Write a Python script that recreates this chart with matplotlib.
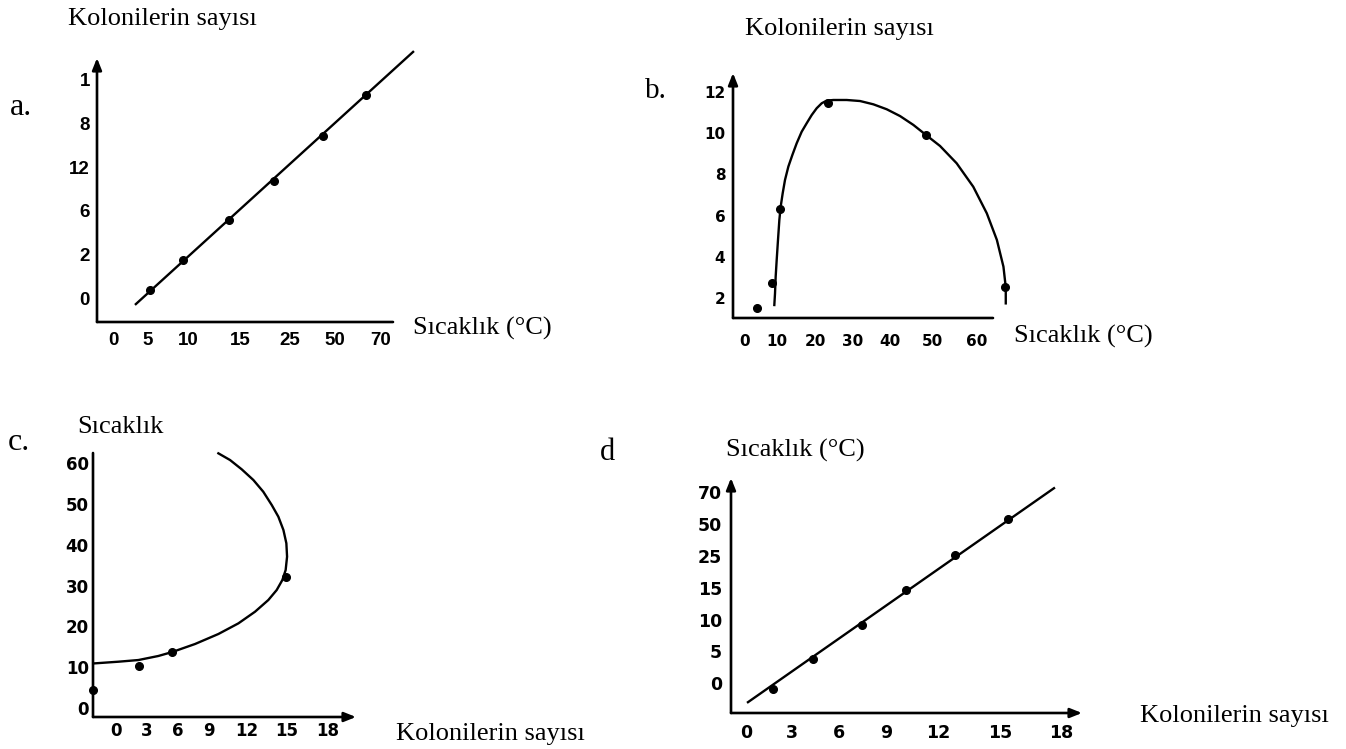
import matplotlib.pyplot as plt

W, H = 1346, 749

# --- a: colonies vs temperature (axes in tick-step units, labels as printed)
a_xlabels = ['0', '5', '10', '15', '25', '50', '70']
a_ylabels = ['0', '2', '6', '12', '8', '1']
a_temp = [0.83, 1.57, 2.60, 3.60, 4.70, 5.66]
a_count = [0.18, 0.87, 1.79, 2.68, 3.72, 4.66]
a_line_temp = [0.51, 6.72]
a_line_count = [-0.14, 5.64]

# --- b: colonies vs temperature
b_xlabels = ['0', '10', '20', '30', '40', '50', '60']
b_ylabels = ['2', '4', '6', '8', '10', '12']
b_temp = [3.1, 7.0, 9.1, 21.5, 46.8, 67.2]
b_count = [1.51, 2.73, 6.32, 11.47, 9.91, 2.53]
b_curve_temp = [7.58, 7.76, 7.93, 8.19, 8.53, 8.88, 9.22, 9.74, 10.34, 11.21,
                12.24, 13.36, 14.65, 15.94, 17.24, 18.53, 19.82, 21.12, 22.85,
                26.29, 29.74, 33.18, 36.63, 40.08, 43.52, 46.8, 50.4, 54.7,
                59.0, 62.5, 65.1, 66.8, 67.4, 67.4]
b_curve_count = [1.66, 2.23, 3.04, 3.84, 4.82, 5.79, 6.43, 7.08, 7.73, 8.38,
                 8.94, 9.51, 10.07, 10.48, 10.88, 11.21, 11.45, 11.58, 11.61,
                 11.61, 11.56, 11.40, 11.16, 10.83, 10.40, 9.91, 9.38, 8.54,
                 7.40, 6.11, 4.82, 3.52, 2.52, 1.74]

# --- c: temperature vs colonies
c_xlabels = ['0', '3', '6', '9', '12', '15', '18']
c_ylabels = ['0', '10', '20', '30', '40', '50', '60']
c_count = [-1.95, 1.95, 4.75, 14.40]
c_temp = [4.4, 10.3, 13.7, 32.2]
c_curve_count = [-1.78, 0.20, 1.90, 3.59, 4.78, 6.71, 8.69, 10.39, 11.80, 12.93,
                 13.64, 14.12, 14.40, 14.52, 14.46, 14.21, 13.78, 13.22, 12.50,
                 11.66, 10.67, 9.68, 8.69]
c_curve_temp = [10.95, 11.35, 11.76, 12.75, 13.73, 15.69, 18.14, 20.75, 23.6,
                26.47, 28.92, 31.37, 33.82, 37.09, 40.37, 43.63, 46.89, 49.75,
                53.01, 55.88, 58.5, 60.78, 62.42]

# --- d: temperature vs colonies (y in tick-step units)
d_xlabels = ['0', '3', '6', '9', '12', '15', '18']
d_ylabels = ['0', '5', '10', '15', '25', '50', '70']
d_count = [1.54, 3.83, 6.63, 9.14, 11.94, 14.97]
d_temp = [-0.19, 0.75, 1.82, 2.92, 4.03, 5.16]
d_line_count = [0.11, 17.6]
d_line_temp = [-0.60, 6.13]

serif = 'Liberation Serif'

fig = plt.figure(figsize=(W / 100, H / 100), dpi=100)


def make_axes(box, xlim, ylim):
    l, t, r, b = box
    ax = fig.add_axes([l / W, 1 - b / H, (r - l) / W, (b - t) / H])
    ax.set_xlim(xlim)
    ax.set_ylim(ylim)
    for s in ax.spines.values():
        s.set_visible(False)
    return ax


def draw_axis(ax, end, arrow):
    style = '-|>,head_length=0.7,head_width=0.28' if arrow else '-'
    ax.annotate('', xy=end, xytext=(0, 0), xycoords='axes fraction',
                arrowprops=dict(arrowstyle=style, lw=1.9, color='black',
                                shrinkA=0, shrinkB=0))


def ticks(ax, xpos, xl, ypos, yl, font, fs, xpad, ypad):
    ax.set_xticks(xpos)
    ax.set_xticklabels(xl)
    ax.set_yticks(ypos)
    ax.set_yticklabels(yl)
    ax.tick_params(length=0, labelsize=fs)
    ax.tick_params(axis='x', pad=xpad)
    ax.tick_params(axis='y', pad=ypad)
    for lab in ax.get_xticklabels() + ax.get_yticklabels():
        lab.set_fontfamily(font)
        lab.set_fontweight('bold')


# a
ax = make_axes((97, 58, 393, 322), (-0.36, 6.27), (-0.55, 5.50))
draw_axis(ax, (1, 0), False)
draw_axis(ax, (0, 1), True)
ticks(ax, [0, 0.78, 1.68, 2.84, 3.96, 4.97, 6.0], a_xlabels,
      range(len(a_ylabels)), a_ylabels, 'Liberation Sans', 13.5, 7.5, 5)
ax.plot(a_line_temp, a_line_count, color='black', lw=1.7, clip_on=False)
ax.plot(a_temp, a_count, 'o', color='black', ms=5.5, clip_on=False)

# b
ax = make_axes((733, 73, 993, 318), (-3.1, 64.1), (1.03, 12.92))
draw_axis(ax, (1, 0), False)
draw_axis(ax, (0, 1), True)
ticks(ax, [0, 8.3, 18.1, 27.7, 37.5, 48.4, 60], b_xlabels,
      [2, 4, 6, 8, 10, 12], b_ylabels, 'DejaVu Sans', 11, 11.5, 5.5)
ax.plot(b_curve_temp, b_curve_count, color='black', lw=1.7, clip_on=False)
ax.plot(b_temp, b_count, 'o', color='black', ms=5.5, clip_on=False)

# c
ax = make_axes((93, 453, 356, 717), (-1.95, 20.37), (-2.2, 62.5))
draw_axis(ax, (1, 0), True)
draw_axis(ax, (0, 1), False)
ticks(ax, [0, 2.63, 5.26, 7.89, 11.12, 14.52, 18], c_xlabels,
      range(0, 61, 10), c_ylabels, 'DejaVu Sans', 12, 3.5, 3)
ax.plot(c_curve_count, c_curve_temp, color='black', lw=1.7, clip_on=False)
ax.plot(c_count, c_temp, 'o', color='black', ms=5.5, clip_on=False)

# d
ax = make_axes((731, 478, 1082, 713), (-0.86, 19.2), (-0.94, 6.45))
draw_axis(ax, (1, 0), True)
draw_axis(ax, (0, 1), True)
ticks(ax, [0, 2.63, 5.31, 8.0, 10.97, 14.5, 18], d_xlabels,
      range(len(d_ylabels)), d_ylabels, 'DejaVu Sans', 12.5, 7.6, 6.5)
ax.plot(d_line_count, d_line_temp, color='black', lw=1.7, clip_on=False)
ax.plot(d_count, d_temp, 'o', color='black', ms=5.5, clip_on=False)

# serif captions, as on the exam sheet
captions = [
    (68, 25, 'Kolonilerin sayısı', 19), (10, 115, 'a.', 23),
    (413, 335, 'Sıcaklık (°C)', 19),
    (745, 35, 'Kolonilerin sayısı', 19), (645, 98, 'b.', 21),
    (1014, 343, 'Sıcaklık (°C)', 19),
    (8, 450, 'c.', 23), (77, 433, 'Sıcaklık', 19),
    (396, 740, 'Kolonilerin sayısı', 19),
    (600, 460, 'd', 22), (726, 457, 'Sıcaklık (°C)', 19),
    (1140, 722, 'Kolonilerin sayısı', 19),
]
for x, y, s, fs in captions:
    fig.text(x / W, 1 - y / H, s, ha='left', va='baseline',
             fontfamily=serif, fontsize=fs)

fig.savefig('out.png', dpi=100)
